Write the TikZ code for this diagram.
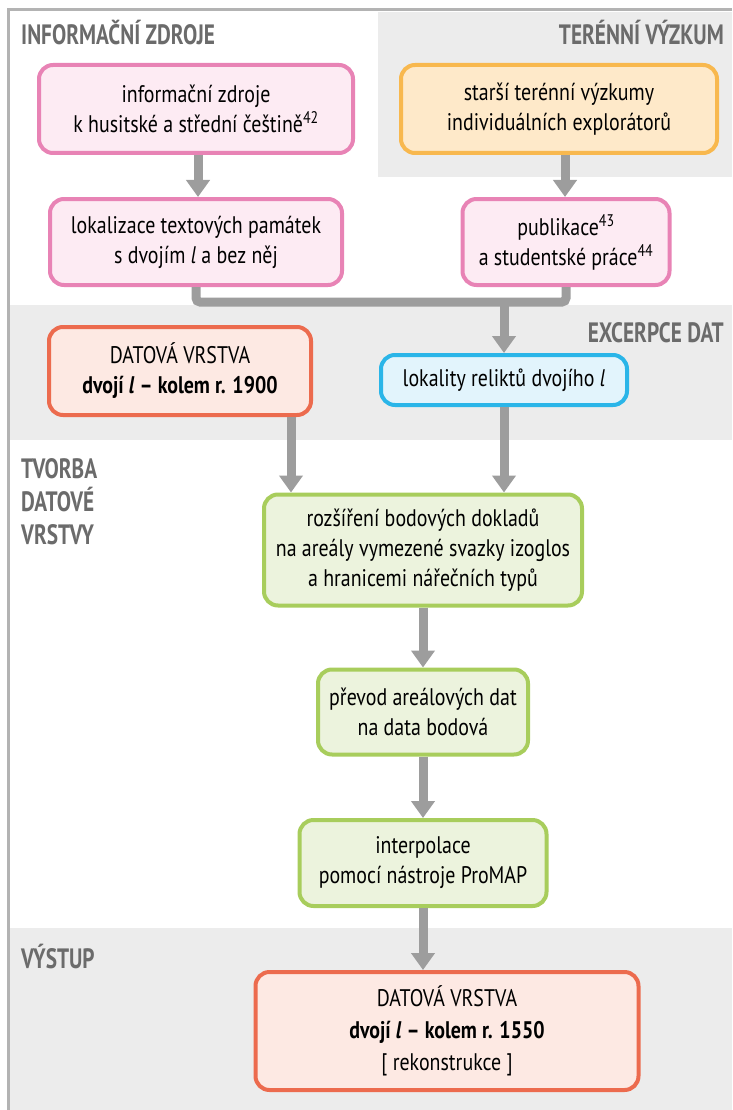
\documentclass[tikz,border=0pt]{standalone}
\usepackage{fontspec}
\setmainfont[FakeStretch=0.83]{PT Sans}
\newfontfamily\headfont[FakeStretch=0.76]{PT Sans}
\usetikzlibrary{arrows.meta}

\definecolor{bandgray}{HTML}{ECECEC}
\definecolor{framegray}{HTML}{B3B3B3}
\definecolor{headgray}{HTML}{6B6B6B}
\definecolor{arrgray}{HTML}{9D9D9D}
\definecolor{pinkline}{HTML}{E883B5}
\definecolor{pinkfill}{HTML}{FDEBF3}
\definecolor{orangeline}{HTML}{F8B84E}
\definecolor{orangefill}{HTML}{FEE9C9}
\definecolor{redline}{HTML}{EC6B4E}
\definecolor{redfill}{HTML}{FDE9E3}
\definecolor{blueline}{HTML}{2AB5E8}
\definecolor{bluefill}{HTML}{E2F4FC}
\definecolor{greenline}{HTML}{A8CD5C}
\definecolor{greenfill}{HTML}{ECF3DD}

\begin{document}
\begin{tikzpicture}[x=1pt,y=-1pt,
  box/.style={draw,rounded corners=14pt,line width=4pt,align=center,inner sep=0pt,
    font=\fontsize{24}{30}\selectfont},
  pinkbox/.style={box,draw=pinkline,fill=pinkfill},
  orangebox/.style={box,draw=orangeline,fill=orangefill},
  redbox/.style={box,draw=redline,fill=redfill},
  bluebox/.style={box,draw=blueline,fill=bluefill},
  greenbox/.style={box,draw=greenline,fill=greenfill},
  arr/.style={-{Triangle[width=23pt,length=17pt]},line width=9pt,draw=arrgray},
  link/.style={line width=9pt,draw=arrgray,rounded corners=4pt},
  head/.style={font=\headfont\bfseries\fontsize{28}{33}\selectfont,text=headgray,inner sep=0pt},
  band/.style={fill=bandgray}]
  \useasboundingbox (0,0) rectangle (732,1110);

  % background bands and frame
  \fill[band] (378,12) rectangle (732,177);
  \fill[band] (10,305) rectangle (732,440);
  \fill[band] (10,928) rectangle (732,1110);
  \draw[framegray,line width=3pt] (8,1110) -- (8,10) -- (732,10);

  % section titles
  \node[head,anchor=base west] (hinfo) at (21,45) {INFORMAČNÍ ZDROJE};
  \node[head,anchor=base east] (hteren) at (724,45) {TERÉNNÍ VÝZKUM};
  \node[head,anchor=base east] (hexc) at (724,342) {EXCERPCE DAT};
  \node[head,anchor=north west,align=left] (htvor) at (21,458) {TVORBA\\DATOVÉ\\VRSTVY};
  \node[head,anchor=base west] (hvyst) at (21,968) {VÝSTUP};

  % boxes
  \node[pinkbox,minimum width=314pt,minimum height=88pt] (info) at (196,109)
    {informační zdroje\\k husitské a střední češtině\textsuperscript{42}};
  \node[orangebox,minimum width=316pt,minimum height=88pt] (star) at (559,109)
    {starší terénní výzkumy\\individuálních explorátorů};
  \node[pinkbox,minimum width=292pt,minimum height=86pt] (lok) at (196,242)
    {lokalizace textových památek\\s dvojím \textit{l} a bez něj};
  \node[pinkbox,minimum width=207pt,minimum height=86pt] (pub) at (566,242)
    {publikace\textsuperscript{43}\\a studentské práce\textsuperscript{44}};
  \node[redbox,minimum width=262pt,minimum height=88pt] (d1900) at (180,371)
    {DATOVÁ VRSTVA\\\textbf{dvojí \textit{l} – kolem r. 1900}};
  \node[bluebox,minimum width=246pt,minimum height=50pt] (lokal) at (504,380)
    {lokality reliktů dvojího \textit{l}};
  \node[greenbox,minimum width=318pt,minimum height=111pt] (roz) at (423,550)
    {rozšíření bodových dokladů\\na areály vymezené svazky izoglos\\a hranicemi nářečních typů};
  \node[greenbox,minimum width=210pt,minimum height=85pt] (prev) at (423,712)
    {převod areálových dat\\na data bodová};
  \node[greenbox,minimum width=247pt,minimum height=86pt] (interp) at (423,863)
    {interpolace\\pomocí nástroje ProMAP};
  \node[redbox,minimum width=383pt,minimum height=118pt,font=\fontsize{24}{32}\selectfont] (d1550) at (447,1031)
    {DATOVÁ VRSTVA\\\textbf{dvojí \textit{l} – kolem r. 1550}\\{[}~rekonstrukce~{]}};

  % connectors
  \coordinate (join) at (504,302);
  \draw[link] (lok.south) |- (join) -| (pub.south);
  \draw[arr] (join) -- (lokal.north);
  \foreach \a/\b/\x in {info/lok/198,star/pub/565,d1900/roz/291,lokal/roz/504,
    roz/prev/423,prev/interp/423,interp/d1550/423}
    \draw[arr] (\x,0 |- \a.south) -- (\x,0 |- \b.north);
\end{tikzpicture}
\end{document}
